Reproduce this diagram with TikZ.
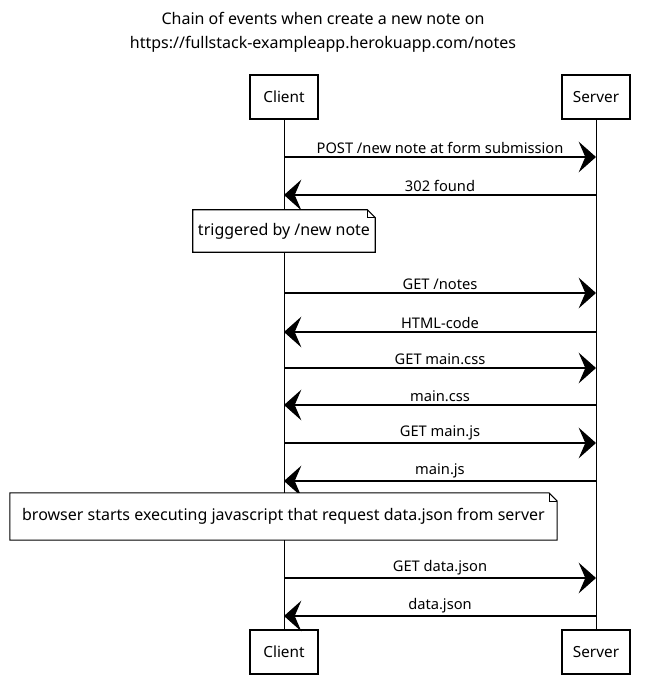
\documentclass[tikz,border=0pt]{standalone}
\usepackage{fontspec}
\setmainfont{Noto Sans}
\usetikzlibrary{arrows.meta}
\begin{document}
\begin{tikzpicture}[x=0.75pt,y=-0.75pt,
  actor/.style={draw, line width=0.8pt, fill=white, minimum width=51pt, minimum height=33pt, inner sep=0pt, font=\fontsize{11.5}{13}\selectfont},
  msg/.style={line width=0.8pt, -{Stealth[length=13pt,width=23pt,inset=5pt]}},
  lbl/.style={above=1pt, inner sep=1pt, font=\fontsize{11}{13}\selectfont},
  life/.style={line width=0.7pt},
  notebox/.style={fill=white, inner sep=0pt, font=\fontsize{12}{14}\selectfont},
  noteline/.style={draw, line width=0.8pt}
]
\useasboundingbox (0,0) rectangle (646,700);
\node[font=\fontsize{12}{18}\selectfont, align=center] (title) at (323,32)
  {Chain of events when create a new note on\\https://fullstack-exampleapp.herokuapp.com/notes};

% actors
\node[actor] (ct) at (284,97) {Client};
\node[actor] (st) at (596,97) {Server};
\node[actor] (cb) at (284,652) {Client};
\node[actor] (sb) at (596,652) {Server};
\draw[life] (ct.south) -- (cb.north);
\draw[life] (st.south) -- (sb.north);

% lifeline points
\foreach \i/\y in {1/157,2/195,3/293,4/332,5/368,6/405,7/443,8/481,9/578,10/616}{
  \coordinate (c\i) at (284,\y);
  \coordinate (s\i) at (596,\y);
}

\draw[msg] (c1) -- node[lbl] {POST /new note at form submission} (s1);
\draw[msg] (s2) -- node[lbl] {302 found} (c2);

% note 1
\node[notebox, minimum width=136.5pt, minimum height=31.5pt] (n1) at (284,231) {triggered by /new note};
\draw[noteline] (n1.south west) -- (n1.north west) -- ([xshift=-6pt]n1.north east) -- ([yshift=-6pt]n1.north east) -- (n1.south east) -- cycle;
\draw[line width=0.5pt] ([xshift=-6pt]n1.north east) -- ([xshift=-6pt,yshift=-6pt]n1.north east) -- ([yshift=-6pt]n1.north east);

\draw[msg] (c3) -- node[lbl] {GET /notes} (s3);
\draw[msg] (s4) -- node[lbl] {HTML-code} (c4);
\draw[msg] (c5) -- node[lbl] {GET main.css} (s5);
\draw[msg] (s6) -- node[lbl] {main.css} (c6);
\draw[msg] (c7) -- node[lbl] {GET main.js} (s7);
\draw[msg] (s8) -- node[lbl] {main.js} (c8);

% note 2
\node[notebox, minimum width=410pt, minimum height=35pt] (n2) at (283.5,516.5) {browser starts executing javascript that request data.json from server};
\draw[noteline] (n2.south west) -- (n2.north west) -- ([xshift=-6pt]n2.north east) -- ([yshift=-6pt]n2.north east) -- (n2.south east) -- cycle;
\draw[line width=0.5pt] ([xshift=-6pt]n2.north east) -- ([xshift=-6pt,yshift=-6pt]n2.north east) -- ([yshift=-6pt]n2.north east);

\draw[msg] (c9) -- node[lbl] {GET data.json} (s9);
\draw[msg] (s10) -- node[lbl] {data.json} (c10);
\end{tikzpicture}
\end{document}
